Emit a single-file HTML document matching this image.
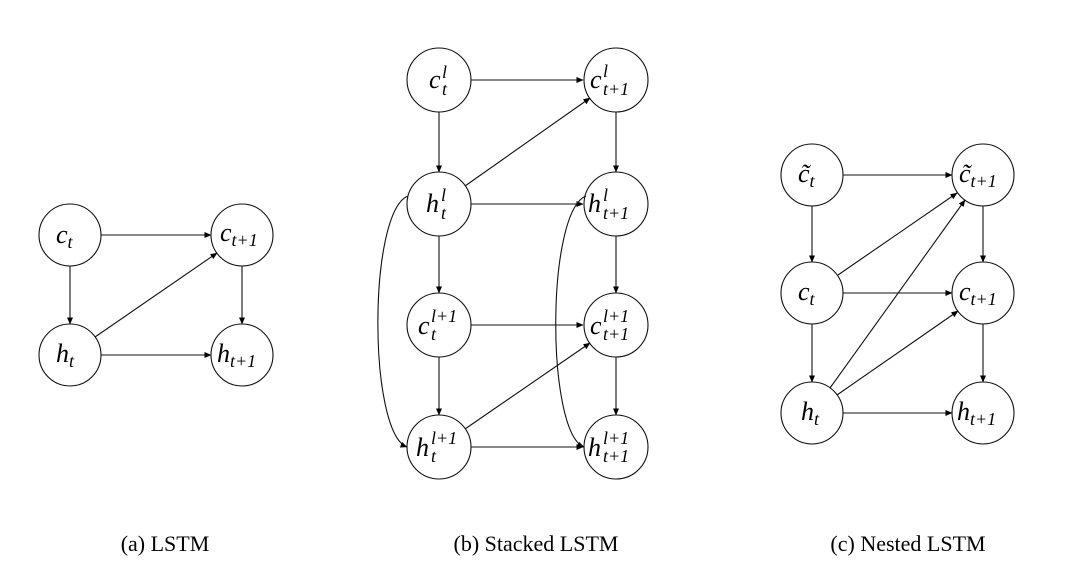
<!DOCTYPE html>
<html><head><meta charset="utf-8"><style>
html,body{margin:0;padding:0;background:#fff;}
svg{display:block;}
.m{font-family:"Liberation Serif",serif;font-style:italic;font-size:26px;fill:#000;}
.s{font-size:18px;}
.cap{font-family:"Liberation Serif",serif;font-size:22px;fill:#000;}
</style></head><body>
<svg width="1080" height="582" viewBox="0 0 1080 582" xmlns="http://www.w3.org/2000/svg">
<defs><marker id="a" markerWidth="7" markerHeight="6" refX="6.5" refY="3" orient="auto" markerUnits="userSpaceOnUse"><path d="M0,0 L7,3 L0,6 z" fill="#000"/></marker></defs>
<g stroke="#111" stroke-width="1.1" fill="none">
<circle cx="70" cy="235" r="31"/><circle cx="242" cy="235" r="31"/>
<circle cx="70" cy="355" r="31"/><circle cx="242" cy="355" r="31"/>
<g marker-end="url(#a)">
<line x1="101" y1="235" x2="211" y2="235"/>
<line x1="70" y1="266" x2="70" y2="324"/>
<line x1="242" y1="266" x2="242" y2="324"/>
<line x1="101" y1="355" x2="211" y2="355"/>
<line x1="95" y1="337" x2="217" y2="253"/>
</g>
<circle cx="439" cy="80" r="32"/><circle cx="616" cy="80" r="32"/>
<circle cx="439" cy="204" r="32"/><circle cx="616" cy="204" r="32"/>
<circle cx="439" cy="325" r="32"/><circle cx="616" cy="325" r="32"/>
<circle cx="439" cy="447" r="32"/><circle cx="616" cy="447" r="32"/>
<g marker-end="url(#a)">
<line x1="471" y1="80" x2="583" y2="80"/>
<line x1="471" y1="204" x2="583" y2="204"/>
<line x1="471" y1="325" x2="583" y2="325"/>
<line x1="471" y1="447" x2="583" y2="447"/>
<line x1="439" y1="112" x2="439" y2="172"/>
<line x1="439" y1="236" x2="439" y2="293"/>
<line x1="439" y1="357" x2="439" y2="415"/>
<line x1="616" y1="112" x2="616" y2="172"/>
<line x1="616" y1="236" x2="616" y2="293"/>
<line x1="616" y1="357" x2="616" y2="415"/>
<line x1="465" y1="186" x2="590" y2="98"/>
<line x1="465" y1="429" x2="590" y2="343"/>
<path d="M408,196 C368,212 368,432 407,447"/>
<path d="M586,196 C546,212 546,432 584,447"/>
</g>
<circle cx="812" cy="175" r="31"/><circle cx="983" cy="175" r="31"/>
<circle cx="812" cy="293" r="31"/><circle cx="983" cy="293" r="31"/>
<circle cx="812" cy="413" r="31"/><circle cx="983" cy="413" r="31"/>
<g marker-end="url(#a)">
<line x1="843" y1="175" x2="952" y2="175"/>
<line x1="843" y1="293" x2="952" y2="293"/>
<line x1="843" y1="413" x2="952" y2="413"/>
<line x1="812" y1="206" x2="812" y2="262"/>
<line x1="812" y1="324" x2="812" y2="382"/>
<line x1="983" y1="206" x2="983" y2="262"/>
<line x1="983" y1="324" x2="983" y2="382"/>
<line x1="838" y1="275" x2="957" y2="193"/>
<line x1="830" y1="388" x2="965" y2="200"/>
<line x1="837" y1="395" x2="958" y2="311"/>
</g>
</g>
<g class="m">
<text x="56" y="243">c<tspan class="s" dy="5">t</tspan></text>
<text x="220" y="241">c<tspan class="s" dy="5">t+1</tspan></text>
<text x="56" y="362">h<tspan class="s" dy="5">t</tspan></text>
<text x="217" y="362">h<tspan class="s" dy="5">t+1</tspan></text>

<text x="429" y="88">c</text><text class="m s" x="442" y="78">l</text><text class="m s" x="442" y="95">t</text>
<text x="590" y="88">c</text><text class="m s" x="603" y="77">l</text><text class="m s" x="603" y="95">t+1</text>
<text x="426" y="212">h</text><text class="m s" x="441" y="201">l</text><text class="m s" x="441" y="219">t</text>
<text x="588" y="212">h</text><text class="m s" x="603" y="201">l</text><text class="m s" x="603" y="219">t+1</text>
<text x="418" y="334">c</text><text class="m s" x="431" y="322">l+1</text><text class="m s" x="431" y="340">t</text>
<text x="590" y="334">c</text><text class="m s" x="603" y="322">l+1</text><text class="m s" x="603" y="340">t+1</text>
<text x="416" y="456">h</text><text class="m s" x="431" y="444">l+1</text><text class="m s" x="431" y="462">t</text>
<text x="588" y="456">h</text><text class="m s" x="603" y="444">l+1</text><text class="m s" x="603" y="462">t+1</text>

<text x="798" y="182">c̃<tspan class="s" dy="5">t</tspan></text>
<text x="959" y="182">c̃<tspan class="s" dy="5">t+1</tspan></text>
<text x="798" y="300">c<tspan class="s" dy="5">t</tspan></text>
<text x="959" y="300">c<tspan class="s" dy="5">t+1</tspan></text>
<text x="801" y="420">h<tspan class="s" dy="5">t</tspan></text>
<text x="957" y="420">h<tspan class="s" dy="5">t+1</tspan></text>
</g>
<text class="cap" x="165" y="551" text-anchor="middle">(a) LSTM</text>
<text class="cap" x="536" y="551" text-anchor="middle">(b) Stacked LSTM</text>
<text class="cap" x="908" y="551" text-anchor="middle">(c) Nested LSTM</text>
</svg>
</body></html>
